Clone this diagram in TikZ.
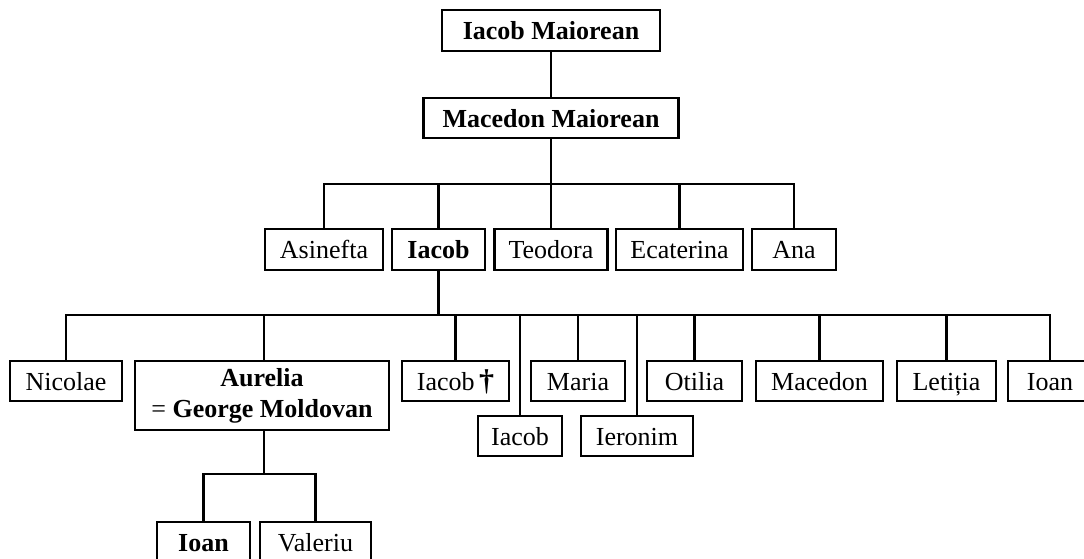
\documentclass[tikz,border=0pt]{standalone}
\usepackage{fontspec}
\setmainfont{Liberation Serif}
\begin{document}
\begin{tikzpicture}[x=1pt,y=-1pt,
  person/.style={draw, line width=2.5pt, inner sep=0pt, align=center,
    font=\fontsize{26}{31}\selectfont, minimum height=40pt},
  single/.style={person, text height=22pt, text depth=3.5pt},
  link/.style={line width=2.5pt}]
\useasboundingbox (0,0) rectangle (1084,558);
\clip (0,0) rectangle (1084,558);
% level 0/1
\node[single, minimum width=218pt, minimum height=41pt] (im) at (551,30.5) {\textbf{Iacob Maiorean}};
\node[single, minimum width=255pt] (mm) at (551,118) {\textbf{Macedon Maiorean}};
% level 2
\node[single, minimum width=118pt, minimum height=41pt] (asinefta) at (324,249.5) {Asinefta};
\node[single, minimum width=93pt, minimum height=41pt] (iacob) at (438.5,249.5) {\textbf{Iacob}};
\node[single, minimum width=113pt, minimum height=41pt] (teodora) at (551,249.5) {Teodora};
\node[single, minimum width=127pt, minimum height=41pt] (ecaterina) at (679.5,249.5) {Ecaterina};
\node[single, minimum width=84pt, minimum height=41pt] (ana) at (794,249.5) {Ana};
% level 3
\node[single, minimum width=112pt] (nicolae) at (66,381) {Nicolae};
\node[person, minimum width=254pt, minimum height=69pt] (aurelia) at (262,395.5) {\textbf{Aurelia}\\= \textbf{George Moldovan}};
\node[single, minimum width=107pt] (iacobd) at (455.5,381) {Iacob\,\textbf{\fontsize{30}{31}\selectfont †}};
\node[single, minimum width=84pt] (iacob2) at (520,436) {Iacob};
\node[single, minimum width=94pt] (maria) at (578,381) {Maria};
\node[single, minimum width=112pt] (ieronim) at (637,436) {Ieronim};
\node[single, minimum width=95pt] (otilia) at (694.5,381) {Otilia};
\node[single, minimum width=127pt] (macedon) at (819.5,381) {Macedon};
\node[single, minimum width=99pt] (letitia) at (946.5,381) {Letiția};
\node[single, minimum width=84pt] (ioan) at (1050,381) {Ioan};
% level 4
\node[single, minimum width=93pt] (ioanb) at (203.5,542) {\textbf{Ioan}};
\node[single, minimum width=111pt] (valeriu) at (315.5,542) {Valeriu};
% bars
\coordinate (b1) at (551,184);
\coordinate (b2) at (438.5,315);
\coordinate (b3) at (264,474);
% connectors
\draw[link] (im) -- (mm);
\draw[link] (mm) -- (b1);
\foreach \n in {asinefta,iacob,teodora,ecaterina,ana}
  \draw[link] (\n.north) |- (b1);
\draw[link] (iacob.south) -- (b2);
\draw[link] (nicolae.north) |- (b2);
\draw[link] (aurelia.north -| b3) -- (b3 |- b2);
\draw[link] (ioan.north) |- (b2);
\foreach \n in {iacobd,iacob2,maria,ieronim,otilia,macedon,letitia}
  \draw[link] (\n.north) -- (\n.north |- b2);
\draw[link] (aurelia.south -| b3) -- (b3);
\draw[link] (ioanb.north) |- (b3);
\draw[link] (valeriu.north) |- (b3);
\end{tikzpicture}
\end{document}
